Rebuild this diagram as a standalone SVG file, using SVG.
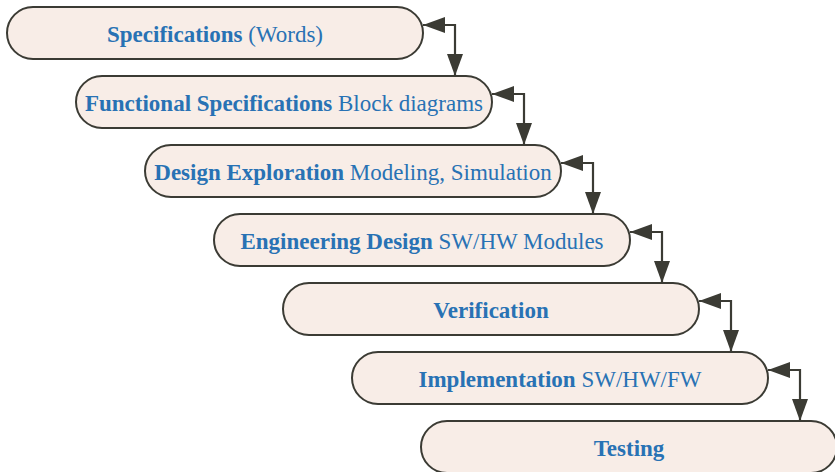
<svg xmlns="http://www.w3.org/2000/svg" width="835" height="472" viewBox="0 0 835 472">
  <style>
    .box { fill: #f8ede7; stroke: #3b3b34; stroke-width: 2; }
    .lbl { font-family: "Liberation Serif", "Times New Roman", serif; font-size: 23px; fill: #2872b4; text-anchor: middle; }
    .b { font-weight: bold; }
    .link { fill: none; stroke: #3b3b34; stroke-width: 2.2; marker-start: url(#head); marker-end: url(#head); }
  </style>
  <defs>
    <marker id="head" viewBox="0 0 22 16" refX="22" refY="8" markerWidth="22" markerHeight="16" markerUnits="userSpaceOnUse" orient="auto-start-reverse">
      <path d="M0,0 L22,8 L0,16 Z" fill="#3b3b34"/>
    </marker>
  </defs>

  <g id="specifications">
    <rect class="box" x="7" y="7" width="416" height="52" rx="26"/>
    <text class="lbl" x="215" y="42"><tspan class="b">Specifications</tspan> (Words)</text>
  </g>
  <g id="functional-specifications">
    <rect class="box" x="76" y="76" width="416" height="52" rx="26"/>
    <text class="lbl" x="284" y="111"><tspan class="b">Functional Specifications</tspan> Block diagrams</text>
  </g>
  <g id="design-exploration">
    <rect class="box" x="145" y="145" width="416" height="52" rx="26"/>
    <text class="lbl" x="353" y="180"><tspan class="b">Design Exploration</tspan> Modeling, Simulation</text>
  </g>
  <g id="engineering-design">
    <rect class="box" x="214" y="214" width="416" height="52" rx="26"/>
    <text class="lbl" x="422" y="249"><tspan class="b">Engineering Design</tspan> SW/HW Modules</text>
  </g>
  <g id="verification">
    <rect class="box" x="283" y="283" width="416" height="52" rx="26"/>
    <text class="lbl b" x="491" y="318">Verification</text>
  </g>
  <g id="implementation">
    <rect class="box" x="352" y="352" width="416" height="52" rx="26"/>
    <text class="lbl" x="560" y="387"><tspan class="b">Implementation</tspan> SW/HW/FW</text>
  </g>
  <g id="testing">
    <rect class="box" x="421" y="421" width="416" height="52" rx="26"/>
    <text class="lbl b" x="629" y="456">Testing</text>
  </g>

  <g id="connectors">
    <path class="link" d="M423,25 H455 V76"/>
    <path class="link" d="M492,94 H524 V145"/>
    <path class="link" d="M561,163 H593 V214"/>
    <path class="link" d="M630,232 H662 V283"/>
    <path class="link" d="M699,301 H731 V352"/>
    <path class="link" d="M768,370 H800 V421"/>
  </g>
</svg>
